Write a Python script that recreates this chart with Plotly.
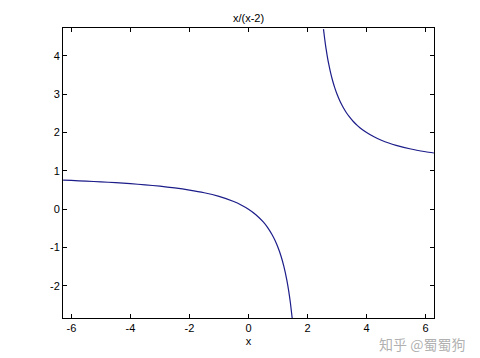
import plotly.graph_objects as go

# Values (left branch, right branch)
x_left = [-6.28, -6.0, -5.5, -5.0, -4.5, -4.0, -3.5, -3.0, -2.5, -2.0, -1.5, -1.0, -0.5,
          -0.25, 0.0, 0.25, 0.5, 0.65, 0.8, 0.9, 1.0, 1.1, 1.2, 1.3, 1.36, 1.42, 1.48]
y_left = [0.758, 0.75, 0.733, 0.714, 0.692, 0.667, 0.636, 0.6, 0.556, 0.5, 0.429, 0.333, 0.2,
          0.111, 0.0, -0.143, -0.333, -0.481, -0.667, -0.818, -1.0, -1.222, -1.5, -1.857,
          -2.125, -2.449, -2.846]
x_right = [2.54, 2.58, 2.62, 2.67, 2.72, 2.78, 2.85, 2.92, 3.0, 3.1, 3.2, 3.3, 3.4, 3.55, 3.7,
           3.85, 4.0, 4.25, 4.5, 4.75, 5.0, 5.5, 6.0, 6.28]
y_right = [4.70, 4.448, 4.226, 3.985, 3.778, 3.564, 3.353, 3.174, 3.0, 2.818, 2.667, 2.538,
           2.429, 2.290, 2.176, 2.081, 2.0, 1.889, 1.8, 1.727, 1.667, 1.571, 1.5, 1.467]

x_ticks = [-6, -4, -2, 0, 2, 4, 6]
y_ticks = [-2, -1, 0, 1, 2, 3, 4]
x_range = [-6.2832, 6.2832]
y_range = [-2.84, 4.73]

line_color = "#1c1c8a"
font = dict(family="Liberation Sans, Arial, sans-serif", size=11, color="black")

fig = go.Figure()
fig.add_trace(go.Scatter(x=x_left, y=y_left, mode="lines", line_shape="spline",
                         line=dict(color=line_color, width=1.2, smoothing=0.6), showlegend=False))
fig.add_trace(go.Scatter(x=x_right, y=y_right, mode="lines", line_shape="spline",
                         line=dict(color=line_color, width=1.2, smoothing=0.6), showlegend=False))

axis_common = dict(showgrid=False, zeroline=False, showline=True, linecolor="black",
                   linewidth=1, mirror="ticks", ticks="inside", ticklen=4,
                   tickcolor="black", tickfont=font)

fig.update_xaxes(range=x_range, tickvals=x_ticks, ticktext=[str(v) for v in x_ticks],
                 title=dict(text="x", font=font, standoff=4), **axis_common)
fig.update_yaxes(range=y_range, tickvals=y_ticks, ticktext=[str(v) for v in y_ticks],
                 **axis_common)

fig.update_layout(
    width=480, height=358,
    margin=dict(l=63, r=46, t=28, b=40),
    paper_bgcolor="white", plot_bgcolor="white",
    title=dict(text="x/(x-2)", font=font, x=0.5, xref="paper", xanchor="center",
               y=1, yref="paper", yanchor="bottom", pad=dict(b=6)),
    font=font,
)

fig.add_annotation(text="知乎 @蜀蜀狗", xref="paper", yref="paper",
                   x=1.09, y=-0.088, xanchor="right", yanchor="middle", showarrow=False,
                   font=dict(family="Noto Sans CJK SC", size=14, color="rgba(150,150,150,0.75)"))

fig.write_html("out.html")
